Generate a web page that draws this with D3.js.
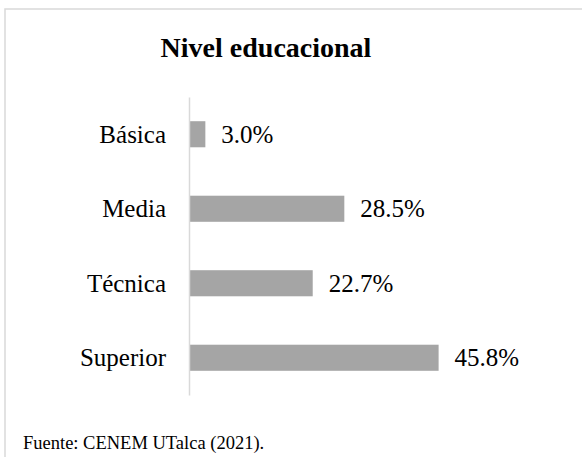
<!DOCTYPE html>
<html>
<head>
<meta charset="utf-8">
<script src="https://cdn.jsdelivr.net/npm/d3@7"></script>
<style>
  body { margin: 0; background: #fff; }
  svg { display: block; }
</style>
</head>
<body>
<script>
// datos del grafico
var categories = ["Básica", "Media", "Técnica", "Superior"];
var values = [3.0, 28.5, 22.7, 45.8];
var title = "Nivel educacional";
var source = "Fuente: CENEM UTalca (2021).";

var data = categories.map(function(c, i) {
    return {cat: c, val: values[i]};
});

var width = 582, height = 457;
var font = "'Liberation Serif', 'Times New Roman', serif";

var svg = d3.select("body").append("svg")
    .attr("width", width)
    .attr("height", height);

// marco del grafico
svg.append("rect")
    .attr("x", 5)
    .attr("y", 9)
    .attr("width", 600)
    .attr("height", 500)
    .attr("fill", "none")
    .attr("stroke", "#d9d9d9")
    .attr("stroke-width", 1.5);

// titulo
svg.append("text")
    .attr("x", 266)
    .attr("y", 57)
    .attr("text-anchor", "middle")
    .attr("font-family", font)
    .attr("font-weight", "bold")
    .attr("font-size", 28)
    .attr("fill", "#000")
    .text(title);

var x0 = 189;
var x = d3.scaleLinear()
    .domain([0, 50])
    .range([0, 272.5]);

var y = d3.scaleBand()
    .domain(categories)
    .range([97, 395])
    .paddingInner(0.65)
    .paddingOuter(0.325);

// barras
svg.selectAll(".bar")
    .data(data)
    .enter().append("rect")
    .attr("class", "bar")
    .attr("x", x0)
    .attr("y", function(d) { return y(d.cat); })
    .attr("width", function(d) { return x(d.val); })
    .attr("height", y.bandwidth())
    .attr("fill", "#a5a5a5");

// eje vertical
var axis = svg.append("g")
    .attr("transform", "translate(" + x0 + ",0)")
    .call(d3.axisLeft(y).tickSize(0).tickPadding(23));

axis.select(".domain")
    .attr("stroke", "#d9d9d9")
    .attr("stroke-width", 1.5);

axis.selectAll("text")
    .attr("font-family", font)
    .attr("font-size", 25)
    .attr("fill", "#000")
    .attr("dy", "0.34em");

// etiquetas de valores
svg.selectAll(".lbl")
    .data(data)
    .enter().append("text")
    .attr("class", "lbl")
    .attr("x", function(d) { return x0 + x(d.val) + 16; })
    .attr("y", function(d) { return y(d.cat) + y.bandwidth() / 2; })
    .attr("dy", "0.34em")
    .attr("font-family", font)
    .attr("font-size", 25)
    .attr("fill", "#000")
    .text(function(d) { return d.val.toFixed(1) + "%"; });

// fuente
svg.append("text")
    .attr("x", 23)
    .attr("y", 449)
    .attr("font-family", font)
    .attr("font-size", 18.5)
    .attr("fill", "#000")
    .text(source);
</script>
</body>
</html>
